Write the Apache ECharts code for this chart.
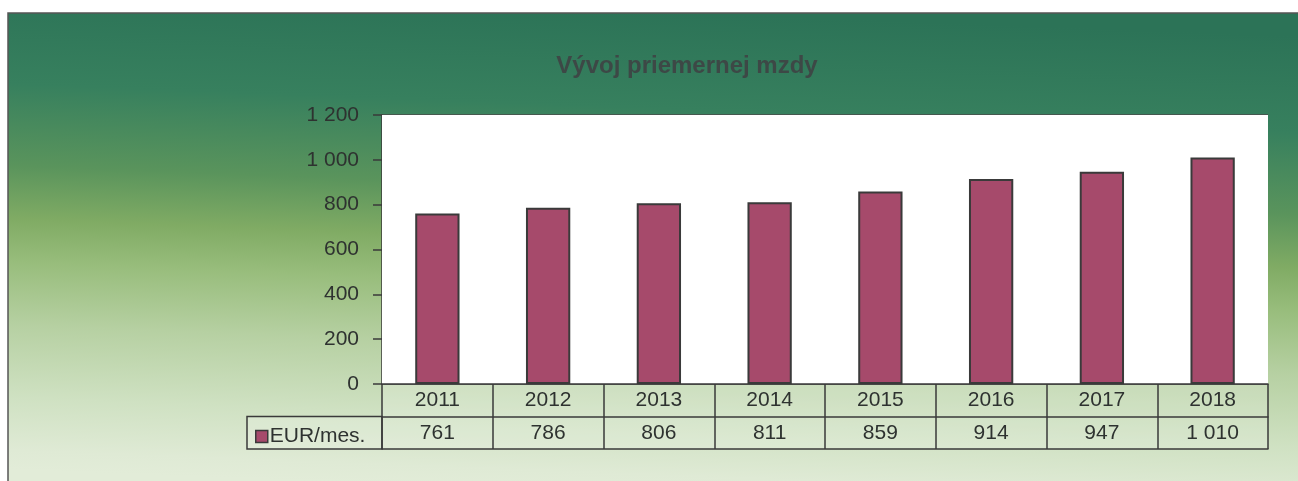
<!DOCTYPE html>
<html>
<head>
<meta charset="utf-8">
<script src="https://cdn.jsdelivr.net/npm/echarts@6/dist/echarts.min.js"></script>
<style>
html,body{margin:0;padding:0;background:#fff;}
#chart{width:1298px;height:481px;}
</style>
</head>
<body>
<div id="chart"></div>
<script>
const titleText = 'Vývoj priemernej mzdy';
const seriesName = 'EUR/mes.';
const years = ['2011','2012','2013','2014','2015','2016','2017','2018'];
const wages = [761, 786, 806, 811, 859, 914, 947, 1010];
const yTicks = [0, 200, 400, 600, 800, 1000, 1200];

function fmt(v){
  return String(v).replace(/\B(?=(\d{3})+(?!\d))/g, ' ');
}
const valueLabels = wages.map(fmt);

const FONT = "'Liberation Sans', Arial, sans-serif";
const INK = '#2e3230';
const LINE = '#3a3a3a';

const chart = echarts.init(document.getElementById('chart'), null, {renderer:'canvas'});
const gridLeft = 382, gridRight = 30, gridTop = 115, gridBottom = 97;
const rowH = 32.5;

chart.setOption({
  animation: false,
  backgroundColor: '#ffffff',
  title: {
    text: titleText,
    left: 682, top: 49, textAlign: 'center',
    textStyle: {fontFamily: FONT, fontSize: 24, fontWeight: 'bold', color: '#3d4846'}
  },
  legend: {
    data: [seriesName],
    left: 250, top: 421,
    icon: 'rect', itemWidth: 12, itemHeight: 12, itemGap: 2,
    textStyle: {fontFamily: FONT, fontSize: 21, color: INK, padding: [0,0,0,-3]},
    itemStyle: {borderColor: LINE, borderWidth: 1.5}
  },
  grid: {
    left: gridLeft, right: gridRight, top: gridTop, bottom: gridBottom,
    show: true, backgroundColor: '#ffffff', borderWidth: 0, z: 1
  },
  graphic: [
    {
      type: 'rect', z: -100, silent: true,
      shape: {x: 8, y: 13, width: 1302, height: 480},
      style: {
        fill: {type: 'linear', x: 0.507, y: 0, x2: 0.493, y2: 1, colorStops: [
          {offset: 0, color: '#2c7357'},
          {offset: 0.2, color: '#37805e'},
          {offset: 0.37, color: '#5a945c'},
          {offset: 0.48, color: '#80ab64'},
          {offset: 0.57, color: '#98bd7c'},
          {offset: 0.7, color: '#b6d0a2'},
          {offset: 0.85, color: '#cfe1c2'},
          {offset: 0.96, color: '#dfead5'},
          {offset: 1, color: '#e2ecd8'}
        ]},
        stroke: '#555', lineWidth: 1.5
      }
    },
    {
      type: 'rect', z: -50, silent: true,
      shape: {x: gridLeft, y: 481 - gridBottom, width: 1298 - gridRight - gridLeft, height: rowH * 2},
      style: {fill: 'rgba(255,255,255,0.18)'}
    },
    {
      type: 'rect', z: -50, silent: true,
      shape: {x: 247, y: 481 - gridBottom + rowH, width: gridLeft - 247, height: rowH},
      style: {fill: 'rgba(255,255,255,0.18)', stroke: LINE, lineWidth: 1.5}
    }
  ],
  xAxis: [
    {
      type: 'category', data: years, position: 'bottom', gridIndex: 0,
      axisLine: {show: true, lineStyle: {color: LINE, width: 1.5}},
      axisTick: {show: true, length: rowH * 2, lineStyle: {color: LINE, width: 1.5}},
      axisLabel: {fontFamily: FONT, fontSize: 21, color: INK, margin: 6},
      splitLine: {show: false}, z: 5
    },
    {
      type: 'category', data: valueLabels, position: 'bottom', offset: rowH, gridIndex: 0,
      axisLine: {show: true, lineStyle: {color: LINE, width: 1.5}},
      axisTick: {show: false},
      axisLabel: {fontFamily: FONT, fontSize: 21, color: INK, margin: 6},
      splitLine: {show: false}
    },
    {
      type: 'category', data: years, position: 'bottom', offset: rowH * 2, gridIndex: 0,
      axisLine: {show: true, lineStyle: {color: LINE, width: 1.5}},
      axisTick: {show: false},
      axisLabel: {show: false},
      splitLine: {show: false}
    }
  ],
  yAxis: {
    type: 'value', min: yTicks[0], max: yTicks[yTicks.length - 1], interval: 200,
    axisLine: {show: true, lineStyle: {color: LINE, width: 1.5}},
    axisTick: {show: true, length: 9, lineStyle: {color: LINE, width: 1.5}},
    axisLabel: {fontFamily: FONT, fontSize: 21, color: INK, margin: 23, formatter: v => fmt(v)},
    splitLine: {show: true, lineStyle: {color: '#4a4a4a', width: 1.5}}
  },
  series: [{
    name: seriesName,
    type: 'bar',
    xAxisIndex: 0,
    data: wages,
    barWidth: '40%',
    itemStyle: {color: '#a64a6b', borderColor: LINE, borderWidth: 2},
    z: 3
  }]
});
</script>
</body>
</html>
